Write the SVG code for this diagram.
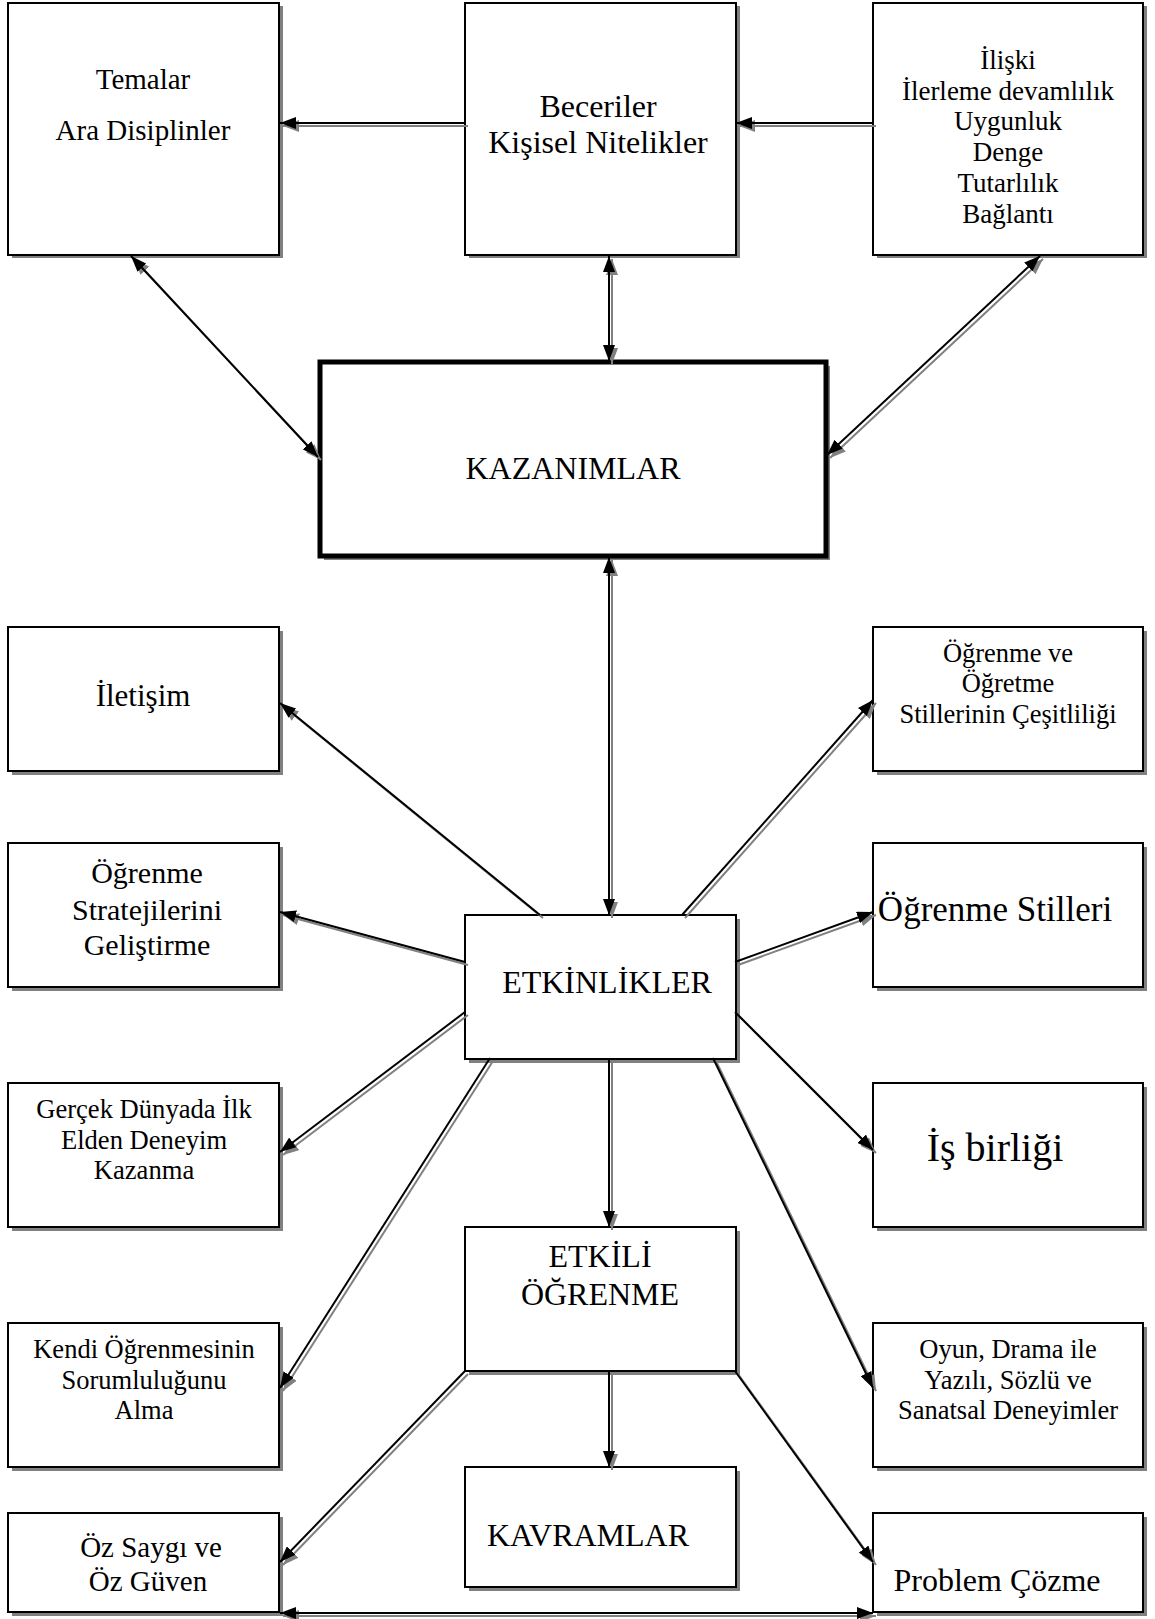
<svg xmlns="http://www.w3.org/2000/svg" xmlns:xlink="http://www.w3.org/1999/xlink" width="1155" height="1619" viewBox="0 0 1155 1619">
<style>
.sh{fill:#808080;stroke:none}
.bx{fill:#ffffff;stroke:#000000;stroke-width:2}
.bxk{fill:#ffffff;stroke:#000000;stroke-width:5}
.t{font-family:"Liberation Serif","Times New Roman",serif;fill:#000000;text-anchor:middle}
.ln{fill:none;stroke:#000000;stroke-width:2}
.lg{fill:none;stroke:#808080;stroke-width:2}
.ln.e{marker-end:url(#ak)}
.ln.b{marker-start:url(#ak);marker-end:url(#ak)}
.lg.e{marker-end:url(#ag)}
.lg.b{marker-start:url(#ag);marker-end:url(#ag)}
</style>
<defs>
<marker id="ak" viewBox="0 0 16 12" refX="16" refY="6" markerWidth="16" markerHeight="12" markerUnits="userSpaceOnUse" orient="auto-start-reverse"><path d="M0,0 L16,6 L0,12 z" fill="#000000"/></marker>
<marker id="ag" viewBox="0 0 16 12" refX="16" refY="6" markerWidth="16" markerHeight="12" markerUnits="userSpaceOnUse" orient="auto-start-reverse"><path d="M0,0 L16,6 L0,12 z" fill="#808080"/></marker>
<path id="c1" d="M465,123 L280,123"/>
<path id="c2" d="M873,123 L736,123"/>
<path id="c3" d="M609,256 L609,361"/>
<path id="c4" d="M131,256 L318,457"/>
<path id="c5" d="M1040,256 L827,455"/>
<path id="c6" d="M609,557 L609,915"/>
<path id="c7" d="M540,915 L280,703"/>
<path id="c8" d="M682,915 L873,700"/>
<path id="c9" d="M465,962 L280,912"/>
<path id="c10" d="M735,962 L873,912"/>
<path id="c11" d="M465,1012 L280,1152"/>
<path id="c12" d="M735,1012 L873,1150"/>
<path id="c13" d="M490,1058 L280,1388"/>
<path id="c14" d="M713,1058 L873,1388"/>
<path id="c15" d="M609,1058 L609,1227"/>
<path id="c16" d="M609,1371 L609,1467"/>
<path id="c17" d="M465,1371 L280,1562"/>
<path id="c18" d="M735,1371 L873,1562"/>
<path id="c19" d="M280,1613 L873,1613"/>
</defs>

<g id="n-temalar">
<rect class="sh" x="12" y="6" width="271" height="252"/>
<rect class="bx" x="8" y="3" width="271" height="252"/>
<text class="t" font-size="29"><tspan x="143" y="89">Temalar</tspan><tspan x="143" y="140">Ara Disiplinler</tspan></text>
</g>
<g id="n-beceriler">
<rect class="sh" x="469" y="6" width="271" height="252"/>
<rect class="bx" x="465" y="3" width="271" height="252"/>
<text class="t" font-size="32"><tspan x="598" y="117">Beceriler</tspan><tspan x="598" y="153">Kişisel Nitelikler</tspan></text>
</g>
<g id="n-iliski">
<rect class="sh" x="877" y="6" width="270" height="252"/>
<rect class="bx" x="873" y="3" width="270" height="252"/>
<text class="t" font-size="27"><tspan x="1008" y="69">İlişki</tspan><tspan x="1008" y="100">İlerleme devamlılık</tspan><tspan x="1008" y="130">Uygunluk</tspan><tspan x="1008" y="161">Denge</tspan><tspan x="1008" y="192">Tutarlılık</tspan><tspan x="1008" y="223">Bağlantı</tspan></text>
</g>
<g id="n-kazanimlar">
<rect class="sh" x="324" y="366" width="506" height="194"/>
<rect class="bxk" x="320" y="362" width="506" height="194"/>
<text class="t" font-size="32" x="573" y="479">KAZANIMLAR</text>
</g>
<g id="n-iletisim">
<rect class="sh" x="12" y="631" width="271" height="144"/>
<rect class="bx" x="8" y="627" width="271" height="144"/>
<text class="t" font-size="31" x="143" y="706">İletişim</text>
</g>
<g id="n-ogrenme-ogretme">
<rect class="sh" x="877" y="631" width="270" height="144"/>
<rect class="bx" x="873" y="627" width="270" height="144"/>
<text class="t" font-size="26.5"><tspan x="1008" y="662">Öğrenme ve</tspan><tspan x="1008" y="692">Öğretme</tspan><tspan x="1008" y="723">Stillerinin Çeşitliliği</tspan></text>
</g>
<g id="n-stratejiler">
<rect class="sh" x="12" y="847" width="271" height="144"/>
<rect class="bx" x="8" y="843" width="271" height="144"/>
<text class="t" font-size="30"><tspan x="147" y="883">Öğrenme</tspan><tspan x="147" y="920">Stratejilerini</tspan><tspan x="147" y="955">Geliştirme</tspan></text>
</g>
<g id="n-stiller">
<rect class="sh" x="877" y="847" width="270" height="144"/>
<rect class="bx" x="873" y="843" width="270" height="144"/>
<text class="t" font-size="35" x="995" y="921">Öğrenme Stilleri</text>
</g>
<g id="n-etkinlikler">
<rect class="sh" x="469" y="919" width="271" height="144"/>
<rect class="bx" x="465" y="915" width="271" height="144"/>
<text class="t" font-size="32" x="607" y="993">ETKİNLİKLER</text>
</g>
<g id="n-gercek">
<rect class="sh" x="12" y="1087" width="271" height="144"/>
<rect class="bx" x="8" y="1083" width="271" height="144"/>
<text class="t" font-size="26.6"><tspan x="144" y="1118">Gerçek Dünyada İlk</tspan><tspan x="144" y="1149">Elden Deneyim</tspan><tspan x="144" y="1179">Kazanma</tspan></text>
</g>
<g id="n-isbirligi">
<rect class="sh" x="877" y="1087" width="270" height="144"/>
<rect class="bx" x="873" y="1083" width="270" height="144"/>
<text class="t" font-size="40" x="995" y="1161">İş birliği</text>
</g>
<g id="n-etkili">
<rect class="sh" x="469" y="1231" width="271" height="144"/>
<rect class="bx" x="465" y="1227" width="271" height="144"/>
<text class="t" font-size="32"><tspan x="600" y="1267">ETKİLİ</tspan><tspan x="600" y="1305">ÖĞRENME</tspan></text>
</g>
<g id="n-kendi">
<rect class="sh" x="12" y="1327" width="271" height="144"/>
<rect class="bx" x="8" y="1323" width="271" height="144"/>
<text class="t" font-size="26.5"><tspan x="144" y="1358">Kendi Öğrenmesinin</tspan><tspan x="144" y="1389">Sorumluluğunu</tspan><tspan x="144" y="1419">Alma</tspan></text>
</g>
<g id="n-oyun">
<rect class="sh" x="877" y="1327" width="270" height="144"/>
<rect class="bx" x="873" y="1323" width="270" height="144"/>
<text class="t" font-size="26.5"><tspan x="1008" y="1358">Oyun, Drama ile</tspan><tspan x="1008" y="1389">Yazılı, Sözlü ve</tspan><tspan x="1008" y="1419">Sanatsal Deneyimler</tspan></text>
</g>
<g id="n-kavramlar">
<rect class="sh" x="469" y="1471" width="271" height="120"/>
<rect class="bx" x="465" y="1467" width="271" height="120"/>
<text class="t" font-size="32" x="588" y="1546">KAVRAMLAR</text>
</g>
<g id="n-ozsaygi">
<rect class="sh" x="12" y="1517" width="271" height="99"/>
<rect class="bx" x="8" y="1513" width="271" height="99"/>
<text class="t" font-size="29"><tspan x="151" y="1557">Öz Saygı ve</tspan><tspan x="148" y="1591">Öz Güven</tspan></text>
</g>
<g id="n-problem">
<rect class="sh" x="877" y="1517" width="270" height="99"/>
<rect class="bx" x="873" y="1513" width="270" height="99"/>
<text class="t" font-size="32" x="997" y="1591">Problem Çözme</text>
</g>

<g id="connectors">
<g transform="translate(3,3)">
<use xlink:href="#c1" class="lg e"/><use xlink:href="#c2" class="lg e"/><use xlink:href="#c3" class="lg b"/><use xlink:href="#c4" class="lg b"/><use xlink:href="#c5" class="lg b"/><use xlink:href="#c6" class="lg b"/><use xlink:href="#c7" class="lg e"/><use xlink:href="#c8" class="lg e"/><use xlink:href="#c9" class="lg e"/><use xlink:href="#c10" class="lg e"/><use xlink:href="#c11" class="lg e"/><use xlink:href="#c12" class="lg e"/><use xlink:href="#c13" class="lg e"/><use xlink:href="#c14" class="lg e"/><use xlink:href="#c15" class="lg e"/><use xlink:href="#c16" class="lg e"/><use xlink:href="#c17" class="lg e"/><use xlink:href="#c18" class="lg e"/><use xlink:href="#c19" class="lg b"/>
</g>
<use xlink:href="#c1" class="ln e"/><use xlink:href="#c2" class="ln e"/><use xlink:href="#c3" class="ln b"/><use xlink:href="#c4" class="ln b"/><use xlink:href="#c5" class="ln b"/><use xlink:href="#c6" class="ln b"/><use xlink:href="#c7" class="ln e"/><use xlink:href="#c8" class="ln e"/><use xlink:href="#c9" class="ln e"/><use xlink:href="#c10" class="ln e"/><use xlink:href="#c11" class="ln e"/><use xlink:href="#c12" class="ln e"/><use xlink:href="#c13" class="ln e"/><use xlink:href="#c14" class="ln e"/><use xlink:href="#c15" class="ln e"/><use xlink:href="#c16" class="ln e"/><use xlink:href="#c17" class="ln e"/><use xlink:href="#c18" class="ln e"/><use xlink:href="#c19" class="ln b"/>
</g>
</svg>
